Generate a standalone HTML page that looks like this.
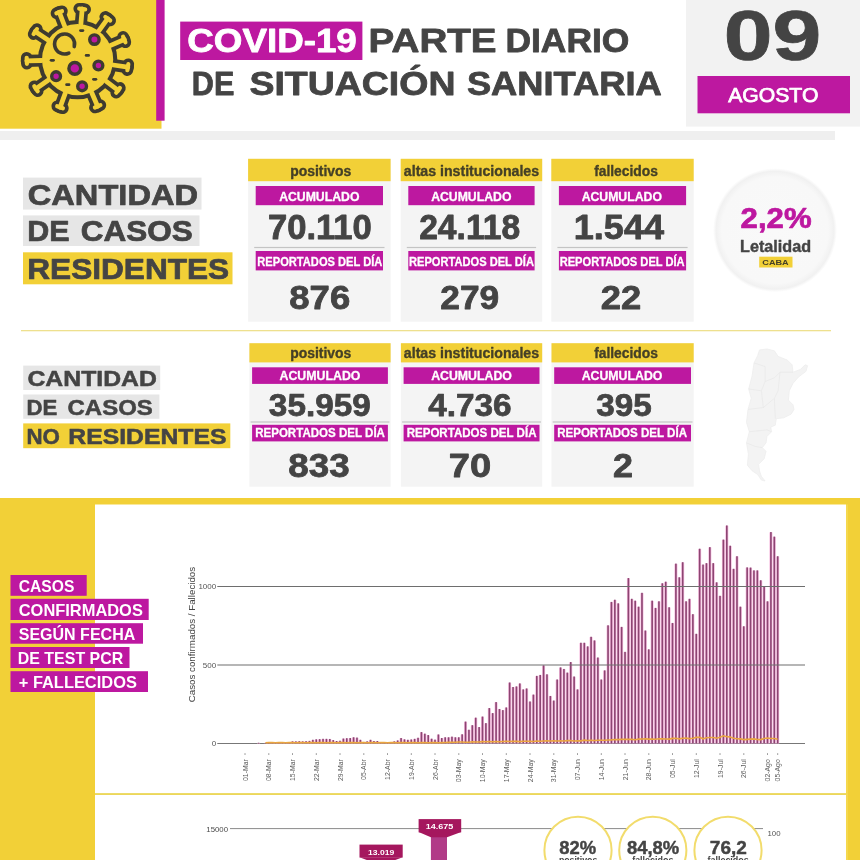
<!DOCTYPE html>
<html lang="es"><head><meta charset="utf-8"><title>COVID-19 Parte diario de situación sanitaria</title>
<style>html,body{margin:0;padding:0;background:#fff}svg{display:block}text{font-family:"Liberation Sans",sans-serif}</style></head>
<body><svg width="860" height="860" viewBox="0 0 860 860">
<rect x="0.0" y="0.0" width="860.0" height="131.0" fill="#ffffff" />
<rect x="0.0" y="131.0" width="835.0" height="9.0" fill="#efefef" />
<rect x="0.0" y="0.0" width="161.5" height="128.7" fill="#f2d037" />
<rect x="156.2" y="0.0" width="8.4" height="120.7" fill="#bd18a0" />
<rect x="686.0" y="0.0" width="174.0" height="126.6" fill="#f2f2f2" />
<rect x="180.2" y="21.6" width="182.2" height="38.4" fill="#bd18a0" />
<text x="187.26" y="52.2" font-size="32.5" font-weight="bold" fill="#ffffff" textLength="169.57" lengthAdjust="spacingAndGlyphs"  stroke="#ffffff" stroke-width="0.78" stroke-linejoin="round">COVID-19</text>
<text x="368.61" y="52.2" font-size="32.5" font-weight="bold" fill="#444444" textLength="128.00" lengthAdjust="spacingAndGlyphs"  stroke="#444444" stroke-width="0.78" stroke-linejoin="round">PARTE</text>
<text x="505.41" y="52.2" font-size="32.5" font-weight="bold" fill="#444444" textLength="123.99" lengthAdjust="spacingAndGlyphs"  stroke="#444444" stroke-width="0.78" stroke-linejoin="round">DIARIO</text>
<text x="191.87" y="94.9" font-size="33.5" font-weight="bold" fill="#444444" textLength="42.54" lengthAdjust="spacingAndGlyphs"  stroke="#444444" stroke-width="0.8" stroke-linejoin="round">DE</text>
<text x="249.40" y="94.9" font-size="33.5" font-weight="bold" fill="#444444" textLength="206.05" lengthAdjust="spacingAndGlyphs"  stroke="#444444" stroke-width="0.8" stroke-linejoin="round">SITUACIÓN</text>
<text x="466.90" y="94.9" font-size="33.5" font-weight="bold" fill="#444444" textLength="194.81" lengthAdjust="spacingAndGlyphs"  stroke="#444444" stroke-width="0.8" stroke-linejoin="round">SANITARIA</text>
<text x="723.71" y="60.0" font-size="70.5" font-weight="bold" fill="#444444" textLength="97.53" lengthAdjust="spacingAndGlyphs" stroke="#444444" stroke-width="0.7">09</text>
<rect x="697.5" y="76.0" width="152.5" height="37.3" fill="#bd18a0" />
<text x="728.20" y="102.0" font-size="20" font-weight="normal" fill="#ffffff" textLength="90.19" lengthAdjust="spacingAndGlyphs" stroke="#ffffff" stroke-width="0.75">AGOSTO</text>
<g>
<line x1="47.6" y1="39.7" x2="35.2" y2="31.6" stroke="#3e3b30" stroke-width="12.2" stroke-linecap="round"/><line x1="33.6" y1="34.1" x2="36.9" y2="29.1" stroke="#3e3b30" stroke-width="11.6" stroke-linecap="round"/><line x1="64.6" y1="26.0" x2="59.2" y2="12.2" stroke="#3e3b30" stroke-width="12.2" stroke-linecap="round"/><line x1="56.4" y1="13.3" x2="62.0" y2="11.2" stroke="#3e3b30" stroke-width="11.6" stroke-linecap="round"/><line x1="80.9" y1="23.7" x2="82.2" y2="9.0" stroke="#3e3b30" stroke-width="12.2" stroke-linecap="round"/><line x1="79.2" y1="8.7" x2="85.2" y2="9.3" stroke="#3e3b30" stroke-width="11.6" stroke-linecap="round"/><line x1="99.0" y1="30.6" x2="107.7" y2="18.7" stroke="#3e3b30" stroke-width="12.2" stroke-linecap="round"/><line x1="105.3" y1="16.9" x2="110.2" y2="20.5" stroke="#3e3b30" stroke-width="11.6" stroke-linecap="round"/><line x1="110.7" y1="45.4" x2="124.3" y2="39.5" stroke="#3e3b30" stroke-width="12.2" stroke-linecap="round"/><line x1="123.1" y1="36.8" x2="125.4" y2="42.3" stroke="#3e3b30" stroke-width="11.6" stroke-linecap="round"/><line x1="113.2" y1="65.0" x2="127.8" y2="67.2" stroke="#3e3b30" stroke-width="12.2" stroke-linecap="round"/><line x1="128.3" y1="64.2" x2="127.4" y2="70.2" stroke="#3e3b30" stroke-width="11.6" stroke-linecap="round"/><line x1="106.3" y1="81.4" x2="118.1" y2="90.3" stroke="#3e3b30" stroke-width="12.2" stroke-linecap="round"/><line x1="119.9" y1="87.9" x2="116.2" y2="92.7" stroke="#3e3b30" stroke-width="11.6" stroke-linecap="round"/><line x1="91.8" y1="92.7" x2="97.6" y2="106.3" stroke="#3e3b30" stroke-width="12.2" stroke-linecap="round"/><line x1="100.4" y1="105.1" x2="94.9" y2="107.5" stroke="#3e3b30" stroke-width="11.6" stroke-linecap="round"/><line x1="65.2" y1="93.4" x2="60.1" y2="107.3" stroke="#3e3b30" stroke-width="12.2" stroke-linecap="round"/><line x1="62.9" y1="108.3" x2="57.2" y2="106.2" stroke="#3e3b30" stroke-width="11.6" stroke-linecap="round"/><line x1="48.1" y1="80.2" x2="36.0" y2="88.7" stroke="#3e3b30" stroke-width="12.2" stroke-linecap="round"/><line x1="37.7" y1="91.2" x2="34.3" y2="86.3" stroke="#3e3b30" stroke-width="11.6" stroke-linecap="round"/><line x1="41.6" y1="60.5" x2="26.8" y2="60.8" stroke="#3e3b30" stroke-width="12.2" stroke-linecap="round"/><line x1="26.9" y1="63.8" x2="26.7" y2="57.8" stroke="#3e3b30" stroke-width="11.6" stroke-linecap="round"/>
<circle cx="77.6" cy="59.6" r="39.7" fill="#3e3b30"/>
<line x1="47.6" y1="39.7" x2="35.2" y2="31.6" stroke="#f2d037" stroke-width="4.8" stroke-linecap="round"/><line x1="33.6" y1="34.1" x2="36.9" y2="29.1" stroke="#f2d037" stroke-width="4.2" stroke-linecap="round"/><line x1="64.6" y1="26.0" x2="59.2" y2="12.2" stroke="#f2d037" stroke-width="4.8" stroke-linecap="round"/><line x1="56.4" y1="13.3" x2="62.0" y2="11.2" stroke="#f2d037" stroke-width="4.2" stroke-linecap="round"/><line x1="80.9" y1="23.7" x2="82.2" y2="9.0" stroke="#f2d037" stroke-width="4.8" stroke-linecap="round"/><line x1="79.2" y1="8.7" x2="85.2" y2="9.3" stroke="#f2d037" stroke-width="4.2" stroke-linecap="round"/><line x1="99.0" y1="30.6" x2="107.7" y2="18.7" stroke="#f2d037" stroke-width="4.8" stroke-linecap="round"/><line x1="105.3" y1="16.9" x2="110.2" y2="20.5" stroke="#f2d037" stroke-width="4.2" stroke-linecap="round"/><line x1="110.7" y1="45.4" x2="124.3" y2="39.5" stroke="#f2d037" stroke-width="4.8" stroke-linecap="round"/><line x1="123.1" y1="36.8" x2="125.4" y2="42.3" stroke="#f2d037" stroke-width="4.2" stroke-linecap="round"/><line x1="113.2" y1="65.0" x2="127.8" y2="67.2" stroke="#f2d037" stroke-width="4.8" stroke-linecap="round"/><line x1="128.3" y1="64.2" x2="127.4" y2="70.2" stroke="#f2d037" stroke-width="4.2" stroke-linecap="round"/><line x1="106.3" y1="81.4" x2="118.1" y2="90.3" stroke="#f2d037" stroke-width="4.8" stroke-linecap="round"/><line x1="119.9" y1="87.9" x2="116.2" y2="92.7" stroke="#f2d037" stroke-width="4.2" stroke-linecap="round"/><line x1="91.8" y1="92.7" x2="97.6" y2="106.3" stroke="#f2d037" stroke-width="4.8" stroke-linecap="round"/><line x1="100.4" y1="105.1" x2="94.9" y2="107.5" stroke="#f2d037" stroke-width="4.2" stroke-linecap="round"/><line x1="65.2" y1="93.4" x2="60.1" y2="107.3" stroke="#f2d037" stroke-width="4.8" stroke-linecap="round"/><line x1="62.9" y1="108.3" x2="57.2" y2="106.2" stroke="#f2d037" stroke-width="4.2" stroke-linecap="round"/><line x1="48.1" y1="80.2" x2="36.0" y2="88.7" stroke="#f2d037" stroke-width="4.8" stroke-linecap="round"/><line x1="37.7" y1="91.2" x2="34.3" y2="86.3" stroke="#f2d037" stroke-width="4.2" stroke-linecap="round"/><line x1="41.6" y1="60.5" x2="26.8" y2="60.8" stroke="#f2d037" stroke-width="4.8" stroke-linecap="round"/><line x1="26.9" y1="63.8" x2="26.7" y2="57.8" stroke="#f2d037" stroke-width="4.2" stroke-linecap="round"/>
<circle cx="77.6" cy="59.6" r="35.6" fill="#f2d037"/>
<path d="M 68.83 53.06 A 10 10 0 1 1 74.26 46.59" fill="none" stroke="#3e3b30" stroke-width="3.6" stroke-linecap="round"/>
<circle cx="94.4" cy="39.6" r="4.7" fill="#bd18a0" stroke="#3e3b30" stroke-width="3.4"/>
<circle cx="74.8" cy="68.4" r="5.9" fill="#bd18a0" stroke="#3e3b30" stroke-width="3.4"/>
<circle cx="98.4" cy="65.5" r="4.4" fill="#bd18a0" stroke="#3e3b30" stroke-width="3.4"/>
<circle cx="56.1" cy="76.2" r="4.4" fill="#bd18a0" stroke="#3e3b30" stroke-width="3.4"/>
<circle cx="82.1" cy="86.3" r="4.4" fill="#bd18a0" stroke="#3e3b30" stroke-width="3.4"/>
<line x1="80.5" y1="30.6" x2="82.9" y2="30.6" stroke="#3e3b30" stroke-width="2.8" stroke-linecap="round"/>
<line x1="86.2" y1="55.4" x2="88.60000000000001" y2="55.4" stroke="#3e3b30" stroke-width="2.8" stroke-linecap="round"/>
<line x1="51.099999999999994" y1="60.3" x2="53.5" y2="60.3" stroke="#3e3b30" stroke-width="2.8" stroke-linecap="round"/>
<line x1="66.6" y1="84.7" x2="69.0" y2="84.7" stroke="#3e3b30" stroke-width="2.8" stroke-linecap="round"/>
<line x1="93.5" y1="79.3" x2="95.9" y2="79.3" stroke="#3e3b30" stroke-width="2.8" stroke-linecap="round"/>
</g>
<rect x="23.0" y="177.6" width="178.5" height="32.0" fill="#e6e6e6" />
<text x="27.77" y="205.2" font-size="30" font-weight="bold" fill="#444444" textLength="170.29" lengthAdjust="spacingAndGlyphs"  stroke="#444444" stroke-width="0.72" stroke-linejoin="round">CANTIDAD</text>
<rect x="23.0" y="215.4" width="176.5" height="30.6" fill="#e6e6e6" />
<text x="27.33" y="241.0" font-size="30" font-weight="bold" fill="#444444" textLength="42.34" lengthAdjust="spacingAndGlyphs"  stroke="#444444" stroke-width="0.72" stroke-linejoin="round">DE</text>
<text x="80.71" y="241.0" font-size="30" font-weight="bold" fill="#444444" textLength="111.99" lengthAdjust="spacingAndGlyphs"  stroke="#444444" stroke-width="0.72" stroke-linejoin="round">CASOS</text>
<rect x="23.0" y="252.3" width="209.5" height="32.0" fill="#f2d037" />
<text x="27.25" y="279.3" font-size="30" font-weight="bold" fill="#444444" textLength="201.95" lengthAdjust="spacingAndGlyphs"  stroke="#444444" stroke-width="0.72" stroke-linejoin="round">RESIDENTES</text>
<rect x="248.1" y="158.8" width="142.5" height="162.9" fill="#f4f4f4" />
<rect x="248.1" y="158.8" width="142.5" height="22.4" fill="#f2d037" />
<text x="290.17" y="175.6" font-size="14" font-weight="bold" fill="#454026" textLength="61.15" lengthAdjust="spacingAndGlyphs"  stroke="#454026" stroke-width="0.34" stroke-linejoin="round">positivos</text>
<rect x="255.7" y="186.0" width="127.3" height="19.2" fill="#bd18a0" />
<text x="279.15" y="200.7" font-size="12.3" font-weight="bold" fill="#ffffff" textLength="80.27" lengthAdjust="spacingAndGlyphs"  stroke="#ffffff" stroke-width="0.3" stroke-linejoin="round">ACUMULADO</text>
<text x="267.95" y="238.7" font-size="35.6" font-weight="bold" fill="#444444" textLength="103.89" lengthAdjust="spacingAndGlyphs"  stroke="#444444" stroke-width="0.85" stroke-linejoin="round">70.110</text>
<rect x="254.2" y="246.9" width="130.3" height="1.2" fill="#c4c4c4" />
<rect x="255.7" y="251.0" width="127.3" height="19.4" fill="#bd18a0" />
<text x="257.34" y="266.0" font-size="12" font-weight="bold" fill="#ffffff" textLength="125.00" lengthAdjust="spacingAndGlyphs"  stroke="#ffffff" stroke-width="0.29" stroke-linejoin="round">REPORTADOS DEL DÍA</text>
<text x="289.29" y="309.0" font-size="33" font-weight="bold" fill="#444444" textLength="60.91" lengthAdjust="spacingAndGlyphs"  stroke="#444444" stroke-width="0.79" stroke-linejoin="round">876</text>
<rect x="400.7" y="158.8" width="141.5" height="162.9" fill="#f4f4f4" />
<rect x="400.7" y="158.8" width="141.5" height="22.4" fill="#f2d037" />
<text x="403.87" y="175.6" font-size="14" font-weight="bold" fill="#454026" textLength="135.24" lengthAdjust="spacingAndGlyphs"  stroke="#454026" stroke-width="0.34" stroke-linejoin="round">altas institucionales</text>
<rect x="408.3" y="186.0" width="126.3" height="19.2" fill="#bd18a0" />
<text x="431.15" y="200.7" font-size="12.3" font-weight="bold" fill="#ffffff" textLength="80.27" lengthAdjust="spacingAndGlyphs"  stroke="#ffffff" stroke-width="0.3" stroke-linejoin="round">ACUMULADO</text>
<text x="419.18" y="238.7" font-size="35.6" font-weight="bold" fill="#444444" textLength="100.94" lengthAdjust="spacingAndGlyphs"  stroke="#444444" stroke-width="0.85" stroke-linejoin="round">24.118</text>
<rect x="406.8" y="246.9" width="129.3" height="1.2" fill="#c4c4c4" />
<rect x="408.3" y="251.0" width="126.3" height="19.4" fill="#bd18a0" />
<text x="408.94" y="266.0" font-size="12" font-weight="bold" fill="#ffffff" textLength="125.00" lengthAdjust="spacingAndGlyphs"  stroke="#ffffff" stroke-width="0.29" stroke-linejoin="round">REPORTADOS DEL DÍA</text>
<text x="440.32" y="309.0" font-size="33" font-weight="bold" fill="#444444" textLength="58.96" lengthAdjust="spacingAndGlyphs"  stroke="#444444" stroke-width="0.79" stroke-linejoin="round">279</text>
<rect x="551.3" y="158.8" width="142.4" height="162.9" fill="#f4f4f4" />
<rect x="551.3" y="158.8" width="142.4" height="22.4" fill="#f2d037" />
<text x="594.17" y="175.6" font-size="14" font-weight="bold" fill="#454026" textLength="63.75" lengthAdjust="spacingAndGlyphs"  stroke="#454026" stroke-width="0.34" stroke-linejoin="round">fallecidos</text>
<rect x="558.9" y="186.0" width="127.2" height="19.2" fill="#bd18a0" />
<text x="581.65" y="200.7" font-size="12.3" font-weight="bold" fill="#ffffff" textLength="80.27" lengthAdjust="spacingAndGlyphs"  stroke="#ffffff" stroke-width="0.3" stroke-linejoin="round">ACUMULADO</text>
<text x="573.70" y="238.7" font-size="35.6" font-weight="bold" fill="#444444" textLength="90.36" lengthAdjust="spacingAndGlyphs"  stroke="#444444" stroke-width="0.85" stroke-linejoin="round">1.544</text>
<rect x="557.4" y="246.9" width="130.2" height="1.2" fill="#c4c4c4" />
<rect x="558.9" y="251.0" width="127.2" height="19.4" fill="#bd18a0" />
<text x="559.64" y="266.0" font-size="12" font-weight="bold" fill="#ffffff" textLength="125.00" lengthAdjust="spacingAndGlyphs"  stroke="#ffffff" stroke-width="0.29" stroke-linejoin="round">REPORTADOS DEL DÍA</text>
<text x="600.69" y="309.0" font-size="33" font-weight="bold" fill="#444444" textLength="40.50" lengthAdjust="spacingAndGlyphs"  stroke="#444444" stroke-width="0.79" stroke-linejoin="round">22</text>
<defs><radialGradient id="lg"><stop offset="0" stop-color="#f9f9f9"/><stop offset="0.86" stop-color="#f8f8f8"/><stop offset="0.95" stop-color="#f1f1f1"/><stop offset="1" stop-color="#f3f3f3" stop-opacity="0"/></radialGradient></defs>
<circle cx="775" cy="230.2" r="62" fill="url(#lg)"/>
<text x="740.64" y="227.9" font-size="30.3" font-weight="bold" fill="#bd18a0" textLength="70.93" lengthAdjust="spacingAndGlyphs"  stroke="#bd18a0" stroke-width="0.73" stroke-linejoin="round">2,2%</text>
<text x="740.06" y="251.7" font-size="15.7" font-weight="bold" fill="#444444" textLength="71.05" lengthAdjust="spacingAndGlyphs"  stroke="#444444" stroke-width="0.38" stroke-linejoin="round">Letalidad</text>
<rect x="759.2" y="256.7" width="33.3" height="10.8" fill="#f2d037" />
<text x="762.30" y="264.8" font-size="8" font-weight="bold" fill="#454026" textLength="26.35" lengthAdjust="spacingAndGlyphs" >CABA</text>
<rect x="21.0" y="330.0" width="810.0" height="1.3" fill="#eee08e" />
<rect x="23.2" y="365.6" width="137.0" height="24.4" fill="#e6e6e6" />
<text x="27.47" y="386.2" font-size="22.5" font-weight="bold" fill="#444444" textLength="129.43" lengthAdjust="spacingAndGlyphs"  stroke="#444444" stroke-width="0.54" stroke-linejoin="round">CANTIDAD</text>
<rect x="23.2" y="394.5" width="136.2" height="24.3" fill="#e6e6e6" />
<text x="26.48" y="415.0" font-size="22.5" font-weight="bold" fill="#444444" textLength="30.85" lengthAdjust="spacingAndGlyphs"  stroke="#444444" stroke-width="0.54" stroke-linejoin="round">DE</text>
<text x="67.57" y="415.0" font-size="22.5" font-weight="bold" fill="#444444" textLength="85.17" lengthAdjust="spacingAndGlyphs"  stroke="#444444" stroke-width="0.54" stroke-linejoin="round">CASOS</text>
<rect x="23.2" y="423.4" width="207.1" height="24.8" fill="#f2d037" />
<text x="26.48" y="443.8" font-size="22.5" font-weight="bold" fill="#444444" textLength="33.45" lengthAdjust="spacingAndGlyphs"  stroke="#444444" stroke-width="0.54" stroke-linejoin="round">NO</text>
<text x="68.27" y="443.8" font-size="22.5" font-weight="bold" fill="#444444" textLength="158.17" lengthAdjust="spacingAndGlyphs"  stroke="#444444" stroke-width="0.54" stroke-linejoin="round">RESIDENTES</text>
<rect x="249.4" y="343.2" width="141.2" height="143.5" fill="#f4f4f4" />
<rect x="249.4" y="343.2" width="141.2" height="19.2" fill="#f2d037" />
<text x="290.17" y="358.0" font-size="14" font-weight="bold" fill="#454026" textLength="61.15" lengthAdjust="spacingAndGlyphs"  stroke="#454026" stroke-width="0.34" stroke-linejoin="round">positivos</text>
<rect x="252.1" y="367.3" width="135.8" height="16.6" fill="#bd18a0" />
<text x="279.55" y="379.9" font-size="12.3" font-weight="bold" fill="#ffffff" textLength="80.86" lengthAdjust="spacingAndGlyphs"  stroke="#ffffff" stroke-width="0.3" stroke-linejoin="round">ACUMULADO</text>
<text x="268.88" y="415.6" font-size="31.3" font-weight="bold" fill="#444444" textLength="101.78" lengthAdjust="spacingAndGlyphs"  stroke="#444444" stroke-width="0.75" stroke-linejoin="round">35.959</text>
<rect x="250.6" y="421.4" width="138.8" height="1.2" fill="#c4c4c4" />
<rect x="252.1" y="424.8" width="135.8" height="16.6" fill="#bd18a0" />
<text x="255.15" y="437.4" font-size="12" font-weight="bold" fill="#ffffff" textLength="129.79" lengthAdjust="spacingAndGlyphs"  stroke="#ffffff" stroke-width="0.29" stroke-linejoin="round">REPORTADOS DEL DÍA</text>
<text x="288.28" y="477.2" font-size="33" font-weight="bold" fill="#444444" textLength="61.42" lengthAdjust="spacingAndGlyphs"  stroke="#444444" stroke-width="0.79" stroke-linejoin="round">833</text>
<rect x="400.9" y="343.2" width="141.3" height="143.5" fill="#f4f4f4" />
<rect x="400.9" y="343.2" width="141.3" height="19.2" fill="#f2d037" />
<text x="403.87" y="358.0" font-size="14" font-weight="bold" fill="#454026" textLength="135.24" lengthAdjust="spacingAndGlyphs"  stroke="#454026" stroke-width="0.34" stroke-linejoin="round">altas institucionales</text>
<rect x="403.6" y="367.3" width="135.9" height="16.6" fill="#bd18a0" />
<text x="431.15" y="379.9" font-size="12.3" font-weight="bold" fill="#ffffff" textLength="80.76" lengthAdjust="spacingAndGlyphs"  stroke="#ffffff" stroke-width="0.3" stroke-linejoin="round">ACUMULADO</text>
<text x="428.27" y="415.6" font-size="31.3" font-weight="bold" fill="#444444" textLength="83.38" lengthAdjust="spacingAndGlyphs"  stroke="#444444" stroke-width="0.75" stroke-linejoin="round">4.736</text>
<rect x="402.1" y="421.4" width="138.9" height="1.2" fill="#c4c4c4" />
<rect x="403.6" y="424.8" width="135.9" height="16.6" fill="#bd18a0" />
<text x="406.64" y="437.4" font-size="12" font-weight="bold" fill="#ffffff" textLength="129.89" lengthAdjust="spacingAndGlyphs"  stroke="#ffffff" stroke-width="0.29" stroke-linejoin="round">REPORTADOS DEL DÍA</text>
<text x="448.74" y="477.2" font-size="33" font-weight="bold" fill="#444444" textLength="42.43" lengthAdjust="spacingAndGlyphs"  stroke="#444444" stroke-width="0.79" stroke-linejoin="round">70</text>
<rect x="551.5" y="343.2" width="142.2" height="143.5" fill="#f4f4f4" />
<rect x="551.5" y="343.2" width="142.2" height="19.2" fill="#f2d037" />
<text x="594.17" y="358.0" font-size="14" font-weight="bold" fill="#454026" textLength="63.75" lengthAdjust="spacingAndGlyphs"  stroke="#454026" stroke-width="0.34" stroke-linejoin="round">fallecidos</text>
<rect x="554.2" y="367.3" width="136.8" height="16.6" fill="#bd18a0" />
<text x="581.65" y="379.9" font-size="12.3" font-weight="bold" fill="#ffffff" textLength="80.76" lengthAdjust="spacingAndGlyphs"  stroke="#ffffff" stroke-width="0.3" stroke-linejoin="round">ACUMULADO</text>
<text x="596.17" y="415.6" font-size="31.3" font-weight="bold" fill="#444444" textLength="55.48" lengthAdjust="spacingAndGlyphs"  stroke="#444444" stroke-width="0.75" stroke-linejoin="round">395</text>
<rect x="552.7" y="421.4" width="139.8" height="1.2" fill="#c4c4c4" />
<rect x="554.2" y="424.8" width="136.8" height="16.6" fill="#bd18a0" />
<text x="557.14" y="437.4" font-size="12" font-weight="bold" fill="#ffffff" textLength="129.89" lengthAdjust="spacingAndGlyphs"  stroke="#ffffff" stroke-width="0.29" stroke-linejoin="round">REPORTADOS DEL DÍA</text>
<text x="613.01" y="477.2" font-size="33" font-weight="bold" fill="#444444" textLength="19.98" lengthAdjust="spacingAndGlyphs"  stroke="#444444" stroke-width="0.79" stroke-linejoin="round">2</text>
<polygon points="759.5,349.9 767.0,349.0 774.4,350.8 778.1,356.4 787.4,360.1 792.1,364.8 793.0,372.2 800.5,369.4 805.1,364.8 807.5,365.7 806.0,371.3 798.6,376.9 793.0,383.4 789.3,390.8 788.4,400.1 793.0,404.8 794.0,409.4 791.2,414.1 783.7,417.8 776.3,418.7 775.3,425.2 770.7,427.1 771.6,431.7 767.0,436.4 766.0,442.9 762.3,447.6 766.0,451.3 764.2,458.7 758.6,464.3 759.5,470.8 761.4,476.4 765.1,481.0 761.4,480.1 757.7,474.5 752.1,470.8 747.4,465.2 748.4,454.1 746.5,442.9 749.3,431.7 746.5,422.4 748.0,409.4 751.2,398.3 748.7,389.0 752.1,375.9 754.0,362.9 757.7,355.5" fill="#f3f3f3" stroke="#ededed" stroke-width="0.8" stroke-linejoin="round"/>
<polyline points="748.7,389.0 761.4,390.8 765.1,381.5 774.4,377.8 780.0,372.2 793.0,372.2" fill="none" stroke="#e6e6e6" stroke-width="0.6"/>
<polyline points="780.0,372.2 778.1,390.8 774.4,398.3 775.3,418.7" fill="none" stroke="#e6e6e6" stroke-width="0.6"/>
<polyline points="774.4,398.3 763.3,407.6 748.0,409.4" fill="none" stroke="#e6e6e6" stroke-width="0.6"/>
<polyline points="749.3,431.7 767.0,429.9 771.6,431.7" fill="none" stroke="#e6e6e6" stroke-width="0.6"/>
<polyline points="746.5,442.9 755.8,446.6 762.3,447.6" fill="none" stroke="#e6e6e6" stroke-width="0.6"/>
<polyline points="761.4,390.8 763.3,407.6" fill="none" stroke="#e6e6e6" stroke-width="0.6"/>
<polyline points="754.0,362.9 765.1,366.6 765.1,381.5" fill="none" stroke="#e6e6e6" stroke-width="0.6"/>
<rect x="0.0" y="498.0" width="860.0" height="362.0" fill="#f2d037" />
<rect x="95.0" y="504.5" width="751.0" height="355.5" fill="#ffffff" />
<rect x="846.0" y="504.5" width="2.0" height="355.5" fill="#f5d84e" />
<rect x="10.5" y="575.0" width="76.2" height="20.8" fill="#bd18a0" />
<text x="18.75" y="591.8" font-size="16.3" font-weight="bold" fill="#ffffff" textLength="55.62" lengthAdjust="spacingAndGlyphs" >CASOS</text>
<rect x="10.5" y="598.8" width="138.2" height="21.2" fill="#bd18a0" />
<text x="18.75" y="616.0" font-size="16.3" font-weight="bold" fill="#ffffff" textLength="124.11" lengthAdjust="spacingAndGlyphs" >CONFIRMADOS</text>
<rect x="10.5" y="623.2" width="132.5" height="20.5" fill="#bd18a0" />
<text x="18.75" y="639.8" font-size="16.3" font-weight="bold" fill="#ffffff" textLength="116.51" lengthAdjust="spacingAndGlyphs" >SEGÚN FECHA</text>
<rect x="10.5" y="647.0" width="119.0" height="21.0" fill="#bd18a0" />
<text x="17.77" y="664.0" font-size="16.3" font-weight="bold" fill="#ffffff" textLength="105.49" lengthAdjust="spacingAndGlyphs" >DE TEST PCR</text>
<rect x="10.5" y="671.2" width="137.5" height="20.8" fill="#bd18a0" />
<text x="18.75" y="688.0" font-size="16.3" font-weight="bold" fill="#ffffff" textLength="118.11" lengthAdjust="spacingAndGlyphs" >+ FALLECIDOS</text>
<line x1="217.3" y1="743.5" x2="805" y2="743.5" stroke="#777" stroke-width="1.1"/>
<text x="216.2" y="746.3" font-size="8" font-weight="normal" fill="#555" text-anchor="end" >0</text>
<text x="216.2" y="667.8" font-size="8" font-weight="normal" fill="#555" text-anchor="end" >500</text>
<text x="216.2" y="589.3" font-size="8" font-weight="normal" fill="#555" text-anchor="end" >1000</text>
<text transform="translate(195.4 634.6) rotate(-90)" text-anchor="middle" font-size="9.75" fill="#444">Casos confirmados / Fallecidos</text>
<g fill="#f6bcdf"><rect x="257.07" y="743.03" width="3.0" height="0.47"/><rect x="263.86" y="743.19" width="3.0" height="0.31"/><rect x="267.25" y="743.19" width="3.0" height="0.31"/><rect x="270.64" y="743.03" width="3.0" height="0.47"/><rect x="274.04" y="743.03" width="3.0" height="0.47"/><rect x="277.43" y="742.56" width="3.0" height="0.94"/><rect x="280.82" y="742.87" width="3.0" height="0.63"/><rect x="284.22" y="742.72" width="3.0" height="0.79"/><rect x="287.61" y="742.87" width="3.0" height="0.63"/><rect x="291.00" y="741.62" width="3.0" height="1.88"/><rect x="294.39" y="741.62" width="3.0" height="1.88"/><rect x="297.79" y="741.46" width="3.0" height="2.04"/><rect x="301.18" y="741.62" width="3.0" height="1.88"/><rect x="304.57" y="741.46" width="3.0" height="2.04"/><rect x="307.97" y="741.14" width="3.0" height="2.35"/><rect x="311.36" y="740.05" width="3.0" height="3.45"/><rect x="314.75" y="739.58" width="3.0" height="3.92"/><rect x="318.15" y="739.42" width="3.0" height="4.08"/><rect x="321.54" y="739.10" width="3.0" height="4.40"/><rect x="324.93" y="739.10" width="3.0" height="4.40"/><rect x="328.32" y="739.26" width="3.0" height="4.24"/><rect x="331.72" y="740.36" width="3.0" height="3.14"/><rect x="335.11" y="741.30" width="3.0" height="2.20"/><rect x="338.50" y="740.99" width="3.0" height="2.51"/><rect x="341.90" y="738.79" width="3.0" height="4.71"/><rect x="345.29" y="738.48" width="3.0" height="5.02"/><rect x="348.68" y="738.32" width="3.0" height="5.18"/><rect x="352.08" y="737.53" width="3.0" height="5.97"/><rect x="355.47" y="737.85" width="3.0" height="5.65"/><rect x="358.86" y="740.05" width="3.0" height="3.45"/><rect x="362.25" y="742.24" width="3.0" height="1.26"/><rect x="365.65" y="741.62" width="3.0" height="1.88"/><rect x="369.04" y="740.05" width="3.0" height="3.45"/><rect x="372.43" y="741.30" width="3.0" height="2.20"/><rect x="375.83" y="741.30" width="3.0" height="2.20"/><rect x="379.22" y="742.87" width="3.0" height="0.63"/><rect x="382.61" y="743.03" width="3.0" height="0.47"/><rect x="386.01" y="743.03" width="3.0" height="0.47"/><rect x="389.40" y="742.87" width="3.0" height="0.63"/><rect x="392.79" y="741.62" width="3.0" height="1.88"/><rect x="396.19" y="740.67" width="3.0" height="2.83"/><rect x="399.58" y="738.32" width="3.0" height="5.18"/><rect x="402.97" y="739.58" width="3.0" height="3.92"/><rect x="406.36" y="740.05" width="3.0" height="3.45"/><rect x="409.76" y="739.73" width="3.0" height="3.77"/><rect x="413.15" y="739.10" width="3.0" height="4.40"/><rect x="416.54" y="738.00" width="3.0" height="5.50"/><rect x="419.94" y="732.35" width="3.0" height="11.15"/><rect x="423.33" y="733.92" width="3.0" height="9.58"/><rect x="426.72" y="735.34" width="3.0" height="8.16"/><rect x="430.12" y="738.95" width="3.0" height="4.55"/><rect x="433.51" y="739.89" width="3.0" height="3.61"/><rect x="436.90" y="734.71" width="3.0" height="8.79"/><rect x="440.29" y="738.32" width="3.0" height="5.18"/><rect x="443.69" y="737.53" width="3.0" height="5.97"/><rect x="447.08" y="737.53" width="3.0" height="5.97"/><rect x="450.47" y="736.91" width="3.0" height="6.59"/><rect x="453.87" y="737.53" width="3.0" height="5.97"/><rect x="457.26" y="737.53" width="3.0" height="5.97"/><rect x="460.65" y="734.55" width="3.0" height="8.95"/><rect x="464.04" y="721.83" width="3.0" height="21.67"/><rect x="467.44" y="730.00" width="3.0" height="13.50"/><rect x="470.83" y="725.45" width="3.0" height="18.05"/><rect x="474.22" y="717.91" width="3.0" height="25.59"/><rect x="477.62" y="727.33" width="3.0" height="16.17"/><rect x="481.01" y="716.81" width="3.0" height="26.69"/><rect x="484.40" y="723.40" width="3.0" height="20.10"/><rect x="487.80" y="708.33" width="3.0" height="35.17"/><rect x="491.19" y="713.36" width="3.0" height="30.14"/><rect x="494.58" y="702.37" width="3.0" height="41.13"/><rect x="497.98" y="709.27" width="3.0" height="34.23"/><rect x="501.37" y="710.37" width="3.0" height="33.13"/><rect x="504.76" y="707.70" width="3.0" height="35.80"/><rect x="508.15" y="682.74" width="3.0" height="60.76"/><rect x="511.55" y="687.29" width="3.0" height="56.21"/><rect x="514.94" y="686.67" width="3.0" height="56.83"/><rect x="518.33" y="683.68" width="3.0" height="59.82"/><rect x="521.73" y="689.65" width="3.0" height="53.85"/><rect x="525.12" y="688.71" width="3.0" height="54.79"/><rect x="528.51" y="701.74" width="3.0" height="41.76"/><rect x="531.90" y="694.83" width="3.0" height="48.67"/><rect x="535.30" y="676.15" width="3.0" height="67.35"/><rect x="538.69" y="675.21" width="3.0" height="68.30"/><rect x="542.08" y="665.63" width="3.0" height="77.87"/><rect x="545.48" y="674.58" width="3.0" height="68.92"/><rect x="548.87" y="696.24" width="3.0" height="47.26"/><rect x="552.26" y="700.80" width="3.0" height="42.70"/><rect x="555.66" y="679.76" width="3.0" height="63.74"/><rect x="559.05" y="667.67" width="3.0" height="75.83"/><rect x="562.44" y="669.24" width="3.0" height="74.26"/><rect x="565.84" y="672.85" width="3.0" height="70.65"/><rect x="569.23" y="662.33" width="3.0" height="81.17"/><rect x="572.62" y="676.77" width="3.0" height="66.72"/><rect x="576.01" y="689.65" width="3.0" height="53.85"/><rect x="579.41" y="643.02" width="3.0" height="100.48"/><rect x="582.80" y="643.02" width="3.0" height="100.48"/><rect x="586.19" y="646.63" width="3.0" height="96.87"/><rect x="589.59" y="637.05" width="3.0" height="106.45"/><rect x="592.98" y="640.66" width="3.0" height="102.83"/><rect x="596.37" y="657.78" width="3.0" height="85.72"/><rect x="599.76" y="679.76" width="3.0" height="63.74"/><rect x="603.16" y="670.65" width="3.0" height="72.85"/><rect x="606.55" y="625.59" width="3.0" height="117.91"/><rect x="609.94" y="602.20" width="3.0" height="141.30"/><rect x="613.34" y="600.00" width="3.0" height="143.50"/><rect x="616.73" y="603.61" width="3.0" height="139.89"/><rect x="620.12" y="627.16" width="3.0" height="116.34"/><rect x="623.52" y="652.13" width="3.0" height="91.37"/><rect x="626.91" y="578.34" width="3.0" height="165.16"/><rect x="630.30" y="599.06" width="3.0" height="144.44"/><rect x="633.69" y="600.94" width="3.0" height="142.56"/><rect x="637.09" y="606.91" width="3.0" height="136.59"/><rect x="640.48" y="593.09" width="3.0" height="150.41"/><rect x="643.87" y="630.77" width="3.0" height="112.73"/><rect x="647.27" y="649.61" width="3.0" height="93.89"/><rect x="650.66" y="600.94" width="3.0" height="142.56"/><rect x="654.05" y="608.17" width="3.0" height="135.33"/><rect x="657.45" y="601.57" width="3.0" height="141.93"/><rect x="660.84" y="583.52" width="3.0" height="159.98"/><rect x="664.23" y="581.95" width="3.0" height="161.55"/><rect x="667.62" y="607.54" width="3.0" height="135.96"/><rect x="671.02" y="623.24" width="3.0" height="120.26"/><rect x="674.41" y="563.89" width="3.0" height="179.61"/><rect x="677.80" y="577.55" width="3.0" height="165.95"/><rect x="681.20" y="562.48" width="3.0" height="181.02"/><rect x="684.59" y="601.57" width="3.0" height="141.93"/><rect x="687.98" y="599.06" width="3.0" height="144.44"/><rect x="691.38" y="614.45" width="3.0" height="129.05"/><rect x="694.77" y="634.07" width="3.0" height="109.43"/><rect x="698.16" y="548.98" width="3.0" height="194.52"/><rect x="701.55" y="564.83" width="3.0" height="178.67"/><rect x="704.95" y="563.42" width="3.0" height="180.08"/><rect x="708.34" y="547.41" width="3.0" height="196.09"/><rect x="711.73" y="563.42" width="3.0" height="180.08"/><rect x="715.13" y="582.58" width="3.0" height="160.93"/><rect x="718.52" y="596.08" width="3.0" height="147.42"/><rect x="721.91" y="539.87" width="3.0" height="203.63"/><rect x="725.31" y="525.74" width="3.0" height="217.76"/><rect x="728.70" y="545.99" width="3.0" height="197.51"/><rect x="732.09" y="569.07" width="3.0" height="174.43"/><rect x="735.48" y="556.51" width="3.0" height="186.99"/><rect x="738.88" y="606.91" width="3.0" height="136.59"/><rect x="742.27" y="626.53" width="3.0" height="116.97"/><rect x="745.66" y="567.66" width="3.0" height="175.84"/><rect x="749.06" y="567.82" width="3.0" height="175.68"/><rect x="752.45" y="570.64" width="3.0" height="172.86"/><rect x="755.84" y="570.64" width="3.0" height="172.86"/><rect x="759.24" y="580.53" width="3.0" height="162.97"/><rect x="762.63" y="586.50" width="3.0" height="157.00"/><rect x="766.02" y="601.57" width="3.0" height="141.93"/><rect x="769.41" y="532.34" width="3.0" height="211.16"/><rect x="772.81" y="536.89" width="3.0" height="206.61"/><rect x="776.20" y="556.51" width="3.0" height="186.99"/></g>
<g fill="#8c4572"><rect x="257.77" y="742.73" width="1.6" height="0.77"/><rect x="264.56" y="742.89" width="1.6" height="0.61"/><rect x="267.95" y="742.89" width="1.6" height="0.61"/><rect x="271.34" y="742.73" width="1.6" height="0.77"/><rect x="274.74" y="742.73" width="1.6" height="0.77"/><rect x="278.13" y="742.26" width="1.6" height="1.24"/><rect x="281.52" y="742.57" width="1.6" height="0.93"/><rect x="284.92" y="742.42" width="1.6" height="1.08"/><rect x="288.31" y="742.57" width="1.6" height="0.93"/><rect x="291.70" y="741.32" width="1.6" height="2.18"/><rect x="295.09" y="741.32" width="1.6" height="2.18"/><rect x="298.49" y="741.16" width="1.6" height="2.34"/><rect x="301.88" y="741.32" width="1.6" height="2.18"/><rect x="305.27" y="741.16" width="1.6" height="2.34"/><rect x="308.67" y="740.85" width="1.6" height="2.65"/><rect x="312.06" y="739.75" width="1.6" height="3.75"/><rect x="315.45" y="739.28" width="1.6" height="4.22"/><rect x="318.85" y="739.12" width="1.6" height="4.38"/><rect x="322.24" y="738.80" width="1.6" height="4.70"/><rect x="325.63" y="738.80" width="1.6" height="4.70"/><rect x="329.02" y="738.96" width="1.6" height="4.54"/><rect x="332.42" y="740.06" width="1.6" height="3.44"/><rect x="335.81" y="741.00" width="1.6" height="2.50"/><rect x="339.20" y="740.69" width="1.6" height="2.81"/><rect x="342.60" y="738.49" width="1.6" height="5.01"/><rect x="345.99" y="738.18" width="1.6" height="5.32"/><rect x="349.38" y="738.02" width="1.6" height="5.48"/><rect x="352.78" y="737.23" width="1.6" height="6.27"/><rect x="356.17" y="737.55" width="1.6" height="5.95"/><rect x="359.56" y="739.75" width="1.6" height="3.75"/><rect x="362.95" y="741.94" width="1.6" height="1.56"/><rect x="366.35" y="741.32" width="1.6" height="2.18"/><rect x="369.74" y="739.75" width="1.6" height="3.75"/><rect x="373.13" y="741.00" width="1.6" height="2.50"/><rect x="376.53" y="741.00" width="1.6" height="2.50"/><rect x="379.92" y="742.57" width="1.6" height="0.93"/><rect x="383.31" y="742.73" width="1.6" height="0.77"/><rect x="386.71" y="742.73" width="1.6" height="0.77"/><rect x="390.10" y="742.57" width="1.6" height="0.93"/><rect x="393.49" y="741.32" width="1.6" height="2.18"/><rect x="396.88" y="740.37" width="1.6" height="3.13"/><rect x="400.28" y="738.02" width="1.6" height="5.48"/><rect x="403.67" y="739.28" width="1.6" height="4.22"/><rect x="407.06" y="739.75" width="1.6" height="3.75"/><rect x="410.46" y="739.43" width="1.6" height="4.07"/><rect x="413.85" y="738.80" width="1.6" height="4.70"/><rect x="417.24" y="737.71" width="1.6" height="5.79"/><rect x="420.64" y="732.05" width="1.6" height="11.45"/><rect x="424.03" y="733.62" width="1.6" height="9.88"/><rect x="427.42" y="735.04" width="1.6" height="8.46"/><rect x="430.81" y="738.65" width="1.6" height="4.85"/><rect x="434.21" y="739.59" width="1.6" height="3.91"/><rect x="437.60" y="734.41" width="1.6" height="9.09"/><rect x="440.99" y="738.02" width="1.6" height="5.48"/><rect x="444.39" y="737.23" width="1.6" height="6.27"/><rect x="447.78" y="737.23" width="1.6" height="6.27"/><rect x="451.17" y="736.61" width="1.6" height="6.89"/><rect x="454.57" y="737.23" width="1.6" height="6.27"/><rect x="457.96" y="737.23" width="1.6" height="6.27"/><rect x="461.35" y="734.25" width="1.6" height="9.25"/><rect x="464.74" y="721.53" width="1.6" height="21.97"/><rect x="468.14" y="729.70" width="1.6" height="13.80"/><rect x="471.53" y="725.15" width="1.6" height="18.36"/><rect x="474.92" y="717.61" width="1.6" height="25.89"/><rect x="478.32" y="727.03" width="1.6" height="16.47"/><rect x="481.71" y="716.51" width="1.6" height="26.99"/><rect x="485.10" y="723.10" width="1.6" height="20.40"/><rect x="488.50" y="708.03" width="1.6" height="35.47"/><rect x="491.89" y="713.06" width="1.6" height="30.44"/><rect x="495.28" y="702.07" width="1.6" height="41.43"/><rect x="498.68" y="708.97" width="1.6" height="34.53"/><rect x="502.07" y="710.07" width="1.6" height="33.43"/><rect x="505.46" y="707.40" width="1.6" height="36.10"/><rect x="508.85" y="682.44" width="1.6" height="61.06"/><rect x="512.25" y="686.99" width="1.6" height="56.51"/><rect x="515.64" y="686.37" width="1.6" height="57.13"/><rect x="519.03" y="683.38" width="1.6" height="60.12"/><rect x="522.43" y="689.35" width="1.6" height="54.15"/><rect x="525.82" y="688.41" width="1.6" height="55.09"/><rect x="529.21" y="701.44" width="1.6" height="42.06"/><rect x="532.61" y="694.53" width="1.6" height="48.97"/><rect x="536.00" y="675.85" width="1.6" height="67.65"/><rect x="539.39" y="674.91" width="1.6" height="68.59"/><rect x="542.78" y="665.33" width="1.6" height="78.17"/><rect x="546.18" y="674.28" width="1.6" height="69.22"/><rect x="549.57" y="695.94" width="1.6" height="47.56"/><rect x="552.96" y="700.50" width="1.6" height="43.00"/><rect x="556.36" y="679.46" width="1.6" height="64.04"/><rect x="559.75" y="667.37" width="1.6" height="76.13"/><rect x="563.14" y="668.94" width="1.6" height="74.56"/><rect x="566.54" y="672.55" width="1.6" height="70.95"/><rect x="569.93" y="662.03" width="1.6" height="81.47"/><rect x="573.32" y="676.48" width="1.6" height="67.02"/><rect x="576.71" y="689.35" width="1.6" height="54.15"/><rect x="580.11" y="642.72" width="1.6" height="100.78"/><rect x="583.50" y="642.72" width="1.6" height="100.78"/><rect x="586.89" y="646.33" width="1.6" height="97.17"/><rect x="590.29" y="636.75" width="1.6" height="106.75"/><rect x="593.68" y="640.37" width="1.6" height="103.13"/><rect x="597.07" y="657.48" width="1.6" height="86.02"/><rect x="600.47" y="679.46" width="1.6" height="64.04"/><rect x="603.86" y="670.35" width="1.6" height="73.15"/><rect x="607.25" y="625.29" width="1.6" height="118.21"/><rect x="610.64" y="601.90" width="1.6" height="141.60"/><rect x="614.04" y="599.70" width="1.6" height="143.80"/><rect x="617.43" y="603.31" width="1.6" height="140.19"/><rect x="620.82" y="626.86" width="1.6" height="116.64"/><rect x="624.22" y="651.83" width="1.6" height="91.67"/><rect x="627.61" y="578.04" width="1.6" height="165.46"/><rect x="631.00" y="598.76" width="1.6" height="144.74"/><rect x="634.39" y="600.64" width="1.6" height="142.86"/><rect x="637.79" y="606.61" width="1.6" height="136.89"/><rect x="641.18" y="592.79" width="1.6" height="150.71"/><rect x="644.57" y="630.47" width="1.6" height="113.03"/><rect x="647.97" y="649.31" width="1.6" height="94.19"/><rect x="651.36" y="600.64" width="1.6" height="142.86"/><rect x="654.75" y="607.87" width="1.6" height="135.63"/><rect x="658.15" y="601.27" width="1.6" height="142.23"/><rect x="661.54" y="583.22" width="1.6" height="160.28"/><rect x="664.93" y="581.65" width="1.6" height="161.85"/><rect x="668.33" y="607.24" width="1.6" height="136.26"/><rect x="671.72" y="622.94" width="1.6" height="120.56"/><rect x="675.11" y="563.59" width="1.6" height="179.91"/><rect x="678.50" y="577.25" width="1.6" height="166.25"/><rect x="681.90" y="562.18" width="1.6" height="181.32"/><rect x="685.29" y="601.27" width="1.6" height="142.23"/><rect x="688.68" y="598.76" width="1.6" height="144.74"/><rect x="692.08" y="614.15" width="1.6" height="129.35"/><rect x="695.47" y="633.77" width="1.6" height="109.73"/><rect x="698.86" y="548.68" width="1.6" height="194.82"/><rect x="702.25" y="564.53" width="1.6" height="178.97"/><rect x="705.65" y="563.12" width="1.6" height="180.38"/><rect x="709.04" y="547.11" width="1.6" height="196.39"/><rect x="712.43" y="563.12" width="1.6" height="180.38"/><rect x="715.83" y="582.28" width="1.6" height="161.23"/><rect x="719.22" y="595.78" width="1.6" height="147.72"/><rect x="722.61" y="539.57" width="1.6" height="203.93"/><rect x="726.01" y="525.44" width="1.6" height="218.06"/><rect x="729.40" y="545.69" width="1.6" height="197.81"/><rect x="732.79" y="568.77" width="1.6" height="174.73"/><rect x="736.18" y="556.21" width="1.6" height="187.29"/><rect x="739.58" y="606.61" width="1.6" height="136.89"/><rect x="742.97" y="626.24" width="1.6" height="117.27"/><rect x="746.36" y="567.36" width="1.6" height="176.14"/><rect x="749.76" y="567.52" width="1.6" height="175.98"/><rect x="753.15" y="570.34" width="1.6" height="173.16"/><rect x="756.54" y="570.34" width="1.6" height="173.16"/><rect x="759.94" y="580.23" width="1.6" height="163.27"/><rect x="763.33" y="586.20" width="1.6" height="157.30"/><rect x="766.72" y="601.27" width="1.6" height="142.23"/><rect x="770.12" y="532.04" width="1.6" height="211.47"/><rect x="773.51" y="536.59" width="1.6" height="206.91"/><rect x="776.90" y="556.21" width="1.6" height="187.29"/></g>
<polyline points="265.4,742.79 268.8,742.63 272.1,742.47 275.5,742.79 278.9,742.63 282.3,742.47 285.7,742.79 289.1,742.63 292.5,742.47 295.9,742.79 299.3,742.63 302.7,742.47 306.1,742.79 309.5,742.63 312.9,742.47 316.3,742.79 319.6,742.63 323.0,742.47 326.4,742.79 329.8,742.63 333.2,742.47 336.6,742.79 340.0,742.63 343.4,742.47 346.8,742.79 350.2,742.63 353.6,742.47 357.0,742.79 360.4,742.63 363.8,742.47 367.1,742.79 370.5,742.63 373.9,742.47 377.3,742.79 380.7,742.63 384.1,742.47 387.5,742.79 390.9,742.63 394.3,742.47 397.7,742.79 401.1,742.63 404.5,742.47 407.9,742.79 411.3,742.63 414.6,742.47 418.0,742.79 421.4,742.63 424.8,742.47 428.2,742.79 431.6,742.63 435.0,742.47 438.4,742.79 441.8,742.63 445.2,742.47 448.6,742.36 452.0,742.18 455.4,742.22 458.8,742.07 462.2,742.02 465.5,742.24 468.9,742.23 472.3,741.80 475.7,742.04 479.1,742.01 482.5,741.61 485.9,741.82 489.3,741.61 492.7,741.74 496.1,741.62 499.5,741.81 502.9,741.54 506.3,741.40 509.7,741.52 513.0,741.38 516.4,741.37 519.8,741.62 523.2,741.25 526.6,741.29 530.0,741.39 533.4,741.48 536.8,741.04 540.2,741.19 543.6,741.03 547.0,740.92 550.4,740.96 553.8,740.82 557.2,741.03 560.5,740.80 563.9,740.93 567.3,740.66 570.7,740.65 574.1,740.97 577.5,740.92 580.9,740.84 584.3,740.14 587.7,740.49 591.1,740.27 594.5,740.45 597.9,740.22 601.3,740.25 604.7,740.20 608.1,739.95 611.4,739.88 614.8,739.56 618.2,739.66 621.6,739.40 625.0,739.38 628.4,739.21 631.8,739.39 635.2,739.71 638.6,739.10 642.0,738.94 645.4,738.92 648.8,739.11 652.2,738.93 655.6,739.25 658.9,738.69 662.3,738.83 665.7,738.98 669.1,739.09 672.5,738.39 675.9,738.22 679.3,738.85 682.7,738.22 686.1,738.09 689.5,738.58 692.9,738.31 696.3,737.41 699.7,737.22 703.1,738.78 706.4,737.70 709.8,737.52 713.2,737.51 716.6,738.24 720.0,737.20 723.4,735.76 726.8,736.65 730.2,736.98 733.6,738.28 737.0,738.72 740.4,738.89 743.8,739.61 747.2,739.40 750.6,739.13 754.0,738.88 757.3,739.45 760.7,739.59 764.1,738.56 767.5,738.00 770.9,738.44 774.3,738.52 777.7,739.17" fill="none" stroke="#eaa640" stroke-width="1.6"/>
<line x1="217.3" y1="665" x2="805" y2="665" stroke="#6e6e6e" stroke-width="1.1"/>
<line x1="217.3" y1="586.5" x2="805" y2="586.5" stroke="#6e6e6e" stroke-width="1.1"/>
<line x1="245.0" y1="753.3" x2="245.0" y2="754.8" stroke="#666" stroke-width="0.8"/>
<text transform="translate(247.6 759.2) rotate(-90)" text-anchor="end" font-size="6.9" fill="#5a5a5a">01-Mar</text>
<line x1="268.8" y1="753.3" x2="268.8" y2="754.8" stroke="#666" stroke-width="0.8"/>
<text transform="translate(271.4 759.2) rotate(-90)" text-anchor="end" font-size="6.9" fill="#5a5a5a">08-Mar</text>
<line x1="292.5" y1="753.3" x2="292.5" y2="754.8" stroke="#666" stroke-width="0.8"/>
<text transform="translate(295.1 759.2) rotate(-90)" text-anchor="end" font-size="6.9" fill="#5a5a5a">15-Mar</text>
<line x1="316.3" y1="753.3" x2="316.3" y2="754.8" stroke="#666" stroke-width="0.8"/>
<text transform="translate(318.9 759.2) rotate(-90)" text-anchor="end" font-size="6.9" fill="#5a5a5a">22-Mar</text>
<line x1="340.0" y1="753.3" x2="340.0" y2="754.8" stroke="#666" stroke-width="0.8"/>
<text transform="translate(342.6 759.2) rotate(-90)" text-anchor="end" font-size="6.9" fill="#5a5a5a">29-Mar</text>
<line x1="363.8" y1="753.3" x2="363.8" y2="754.8" stroke="#666" stroke-width="0.8"/>
<text transform="translate(366.4 759.2) rotate(-90)" text-anchor="end" font-size="6.9" fill="#5a5a5a">05-Abr</text>
<line x1="387.5" y1="753.3" x2="387.5" y2="754.8" stroke="#666" stroke-width="0.8"/>
<text transform="translate(390.1 759.2) rotate(-90)" text-anchor="end" font-size="6.9" fill="#5a5a5a">12-Abr</text>
<line x1="411.3" y1="753.3" x2="411.3" y2="754.8" stroke="#666" stroke-width="0.8"/>
<text transform="translate(413.9 759.2) rotate(-90)" text-anchor="end" font-size="6.9" fill="#5a5a5a">19-Abr</text>
<line x1="435.0" y1="753.3" x2="435.0" y2="754.8" stroke="#666" stroke-width="0.8"/>
<text transform="translate(437.6 759.2) rotate(-90)" text-anchor="end" font-size="6.9" fill="#5a5a5a">26-Abr</text>
<line x1="458.8" y1="753.3" x2="458.8" y2="754.8" stroke="#666" stroke-width="0.8"/>
<text transform="translate(461.4 759.2) rotate(-90)" text-anchor="end" font-size="6.9" fill="#5a5a5a">03-May</text>
<line x1="482.5" y1="753.3" x2="482.5" y2="754.8" stroke="#666" stroke-width="0.8"/>
<text transform="translate(485.1 759.2) rotate(-90)" text-anchor="end" font-size="6.9" fill="#5a5a5a">10-May</text>
<line x1="506.3" y1="753.3" x2="506.3" y2="754.8" stroke="#666" stroke-width="0.8"/>
<text transform="translate(508.9 759.2) rotate(-90)" text-anchor="end" font-size="6.9" fill="#5a5a5a">17-May</text>
<line x1="530.0" y1="753.3" x2="530.0" y2="754.8" stroke="#666" stroke-width="0.8"/>
<text transform="translate(532.6 759.2) rotate(-90)" text-anchor="end" font-size="6.9" fill="#5a5a5a">24-May</text>
<line x1="553.8" y1="753.3" x2="553.8" y2="754.8" stroke="#666" stroke-width="0.8"/>
<text transform="translate(556.4 759.2) rotate(-90)" text-anchor="end" font-size="6.9" fill="#5a5a5a">31-May</text>
<line x1="577.5" y1="753.3" x2="577.5" y2="754.8" stroke="#666" stroke-width="0.8"/>
<text transform="translate(580.1 759.2) rotate(-90)" text-anchor="end" font-size="6.9" fill="#5a5a5a">07-Jun</text>
<line x1="601.3" y1="753.3" x2="601.3" y2="754.8" stroke="#666" stroke-width="0.8"/>
<text transform="translate(603.9 759.2) rotate(-90)" text-anchor="end" font-size="6.9" fill="#5a5a5a">14-Jun</text>
<line x1="625.0" y1="753.3" x2="625.0" y2="754.8" stroke="#666" stroke-width="0.8"/>
<text transform="translate(627.6 759.2) rotate(-90)" text-anchor="end" font-size="6.9" fill="#5a5a5a">21-Jun</text>
<line x1="648.8" y1="753.3" x2="648.8" y2="754.8" stroke="#666" stroke-width="0.8"/>
<text transform="translate(651.4 759.2) rotate(-90)" text-anchor="end" font-size="6.9" fill="#5a5a5a">28-Jun</text>
<line x1="672.5" y1="753.3" x2="672.5" y2="754.8" stroke="#666" stroke-width="0.8"/>
<text transform="translate(675.1 759.2) rotate(-90)" text-anchor="end" font-size="6.9" fill="#5a5a5a">05-Jul</text>
<line x1="696.3" y1="753.3" x2="696.3" y2="754.8" stroke="#666" stroke-width="0.8"/>
<text transform="translate(698.9 759.2) rotate(-90)" text-anchor="end" font-size="6.9" fill="#5a5a5a">12-Jul</text>
<line x1="720.0" y1="753.3" x2="720.0" y2="754.8" stroke="#666" stroke-width="0.8"/>
<text transform="translate(722.6 759.2) rotate(-90)" text-anchor="end" font-size="6.9" fill="#5a5a5a">19-Jul</text>
<line x1="743.8" y1="753.3" x2="743.8" y2="754.8" stroke="#666" stroke-width="0.8"/>
<text transform="translate(746.4 759.2) rotate(-90)" text-anchor="end" font-size="6.9" fill="#5a5a5a">26-Jul</text>
<line x1="767.5" y1="753.3" x2="767.5" y2="754.8" stroke="#666" stroke-width="0.8"/>
<text transform="translate(770.1 759.2) rotate(-90)" text-anchor="end" font-size="6.9" fill="#5a5a5a">02-Ago</text>
<line x1="777.7" y1="753.3" x2="777.7" y2="754.8" stroke="#666" stroke-width="0.8"/>
<text transform="translate(780.3 759.2) rotate(-90)" text-anchor="end" font-size="6.9" fill="#5a5a5a">05-Ago</text>
<rect x="95.0" y="793.1" width="751.0" height="1.9" fill="#ecd75a" />
<line x1="230" y1="828.6" x2="763" y2="828.6" stroke="#8a8a8a" stroke-width="1"/>
<text x="228.0" y="831.8" font-size="7.8" font-weight="normal" fill="#4a4a4a" text-anchor="end" >15000</text>
<text x="767.5" y="835.8" font-size="7.8" font-weight="normal" fill="#555" text-anchor="start" >100</text>
<rect x="430.9" y="834.0" width="16.1" height="26.0" fill="#b13b87" />
<polygon points="418.6,832 461.2,832 447,837.2 430.9,837.2" fill="#a5175e"/>
<rect x="418.6" y="819.1" width="42.6" height="13.2" fill="#a5175e" />
<text x="425.80" y="828.9" font-size="8" font-weight="bold" fill="#ffffff" textLength="27.58" lengthAdjust="spacingAndGlyphs" >14.675</text>
<rect x="359.5" y="844.6" width="43.2" height="12.9" fill="#a5175e" />
<polygon points="359.5,857.3 402.7,857.3 389,862.3 373,862.3" fill="#a5175e"/>
<text x="368.10" y="854.6" font-size="8" font-weight="bold" fill="#ffffff" textLength="26.21" lengthAdjust="spacingAndGlyphs" >13.019</text>
<circle cx="578" cy="850.3" r="33.6" fill="#ffffff" stroke="#f2dc6c" stroke-width="2"/>
<text x="559.23" y="853.6" font-size="18.8" font-weight="bold" fill="#444" textLength="36.86" lengthAdjust="spacingAndGlyphs"  stroke="#444" stroke-width="0.45" stroke-linejoin="round">82%</text>
<circle cx="652.8" cy="850.3" r="33.6" fill="#ffffff" stroke="#f2dc6c" stroke-width="2"/>
<text x="626.93" y="853.6" font-size="18.8" font-weight="bold" fill="#444" textLength="52.35" lengthAdjust="spacingAndGlyphs"  stroke="#444" stroke-width="0.45" stroke-linejoin="round">84,8%</text>
<circle cx="728" cy="850.3" r="33.6" fill="#ffffff" stroke="#f2dc6c" stroke-width="2"/>
<text x="709.83" y="853.6" font-size="18.8" font-weight="bold" fill="#444" textLength="37.00" lengthAdjust="spacingAndGlyphs"  stroke="#444" stroke-width="0.45" stroke-linejoin="round">76,2</text>
<text x="558.90" y="863.3" font-size="8.6" font-weight="bold" fill="#444" textLength="38.38" lengthAdjust="spacingAndGlyphs" >positivos</text>
<text x="632.20" y="863.3" font-size="8.6" font-weight="bold" fill="#444" textLength="41.17" lengthAdjust="spacingAndGlyphs" >fallecidos</text>
<text x="707.50" y="863.3" font-size="8.6" font-weight="bold" fill="#444" textLength="41.27" lengthAdjust="spacingAndGlyphs" >fallecidos</text>
</svg></body></html>
